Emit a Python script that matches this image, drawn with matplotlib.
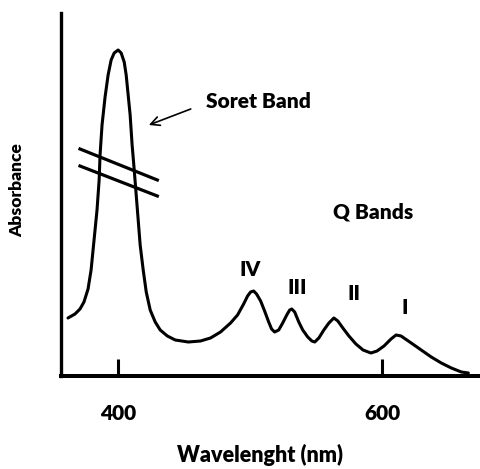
import matplotlib
matplotlib.use("Agg")
import matplotlib.pyplot as plt

plt.rcParams['font.family'] = ['Lato', 'DejaVu Sans']

# spectrum (wavelength in nm, absorbance in arbitrary units)
wavelength = [362.0, 367.3, 371.1, 374.1, 377.2, 379.5, 381.0, 382.5, 384.0, 385.6,
              386.3, 387.8, 390.1, 392.4, 394.7, 397.0, 400.0, 402.3, 404.6, 406.1,
              407.6, 409.1, 410.6, 412.2, 413.7, 415.2, 416.7, 419.0, 421.3, 424.3,
              428.1, 431.9, 437.3, 443.3, 453.2, 462.4, 470.0, 477.6, 485.2, 490.5,
              495.1, 498.1, 500.4, 502.7, 504.9, 508.0, 511.0, 514.1, 516.3, 518.6,
              521.7, 524.7, 527.8, 530.0, 531.6, 533.8, 536.9, 539.9, 543.7, 546.8,
              549.0, 552.1, 555.9, 559.7, 563.5, 566.5, 570.3, 574.9, 580.2, 585.6,
              591.6, 596.2, 601.5, 606.8, 610.6, 614.4, 622.1, 629.7, 637.3, 644.9,
              652.5, 660.1, 665.4]
absorbance = [58, 62, 67, 74, 87, 106, 126, 146, 166, 196,
              221, 251, 279, 301, 316, 323, 326, 323, 314, 301,
              281, 261, 231, 206, 181, 156, 131, 106, 84, 66,
              54, 46, 40, 36, 34, 35, 38, 44, 53, 61,
              72, 80, 84, 85, 82, 75, 65, 54, 47, 44,
              46, 53, 61, 66, 67, 64, 54, 46, 39, 35,
              34, 38, 46, 53, 58, 55, 48, 40, 32, 26,
              23, 25, 30, 37, 41, 40, 33, 26, 19, 13,
              8, 4, 3]

tick_pos = [400, 600]
tick_labels = ['400', '600']

band_names = ['IV', 'III', 'II', 'I']
band_x = [500.4, 536.1, 578.7, 617.5]
band_y = [107, 89, 83, 69]

fig = plt.figure(figsize=(4.81, 4.69), dpi=100)
ax = fig.add_axes([61 / 481, 93 / 469, 420 / 481, 363 / 469])

ax.plot(wavelength, absorbance, color='black', lw=2.2,
        solid_joinstyle='round', solid_capstyle='round')

# axis break marks on the Soret peak
ax.plot([371.1, 429.7], [227, 196], color='black', lw=2.3)
ax.plot([371.1, 429.7], [210, 180], color='black', lw=2.3)

ax.annotate('', xy=(421.3, 250), xytext=(457.0, 268),
            arrowprops=dict(arrowstyle='->', color='black', lw=1.2,
                            mutation_scale=16))
ax.text(466.9, 275, 'Soret Band', fontsize=15, fontweight='heavy',
        ha='left', va='center')
ax.text(593.2, 164, 'Q Bands', fontsize=15, fontweight='heavy',
        ha='center', va='center')
for name, bx, by in zip(band_names, band_x, band_y):
    ax.text(bx, by, name, fontsize=15, fontweight='heavy', ha='center', va='center')

ax.set_xlim(356.7, 675)
ax.set_ylim(0, 363)
ax.spines['top'].set_visible(False)
ax.spines['right'].set_visible(False)
ax.spines['left'].set_linewidth(2.4)
ax.spines['bottom'].set_linewidth(2.9)

ax.set_xticks(tick_pos)
ax.set_xticklabels(tick_labels, fontsize=15, fontweight='heavy')
ax.tick_params(axis='x', direction='in', length=12.2, width=2.2, pad=20)
ax.set_yticks([])

ax.set_xlabel('Wavelenght (nm)', fontsize=15.5, fontweight='heavy')
ax.xaxis.set_label_coords(0.474, -0.188)
ax.set_ylabel('Absorbance', fontsize=12.5, fontweight='heavy')
ax.yaxis.set_label_coords(-0.086, 0.512)

fig.savefig('out.png', dpi=100)
